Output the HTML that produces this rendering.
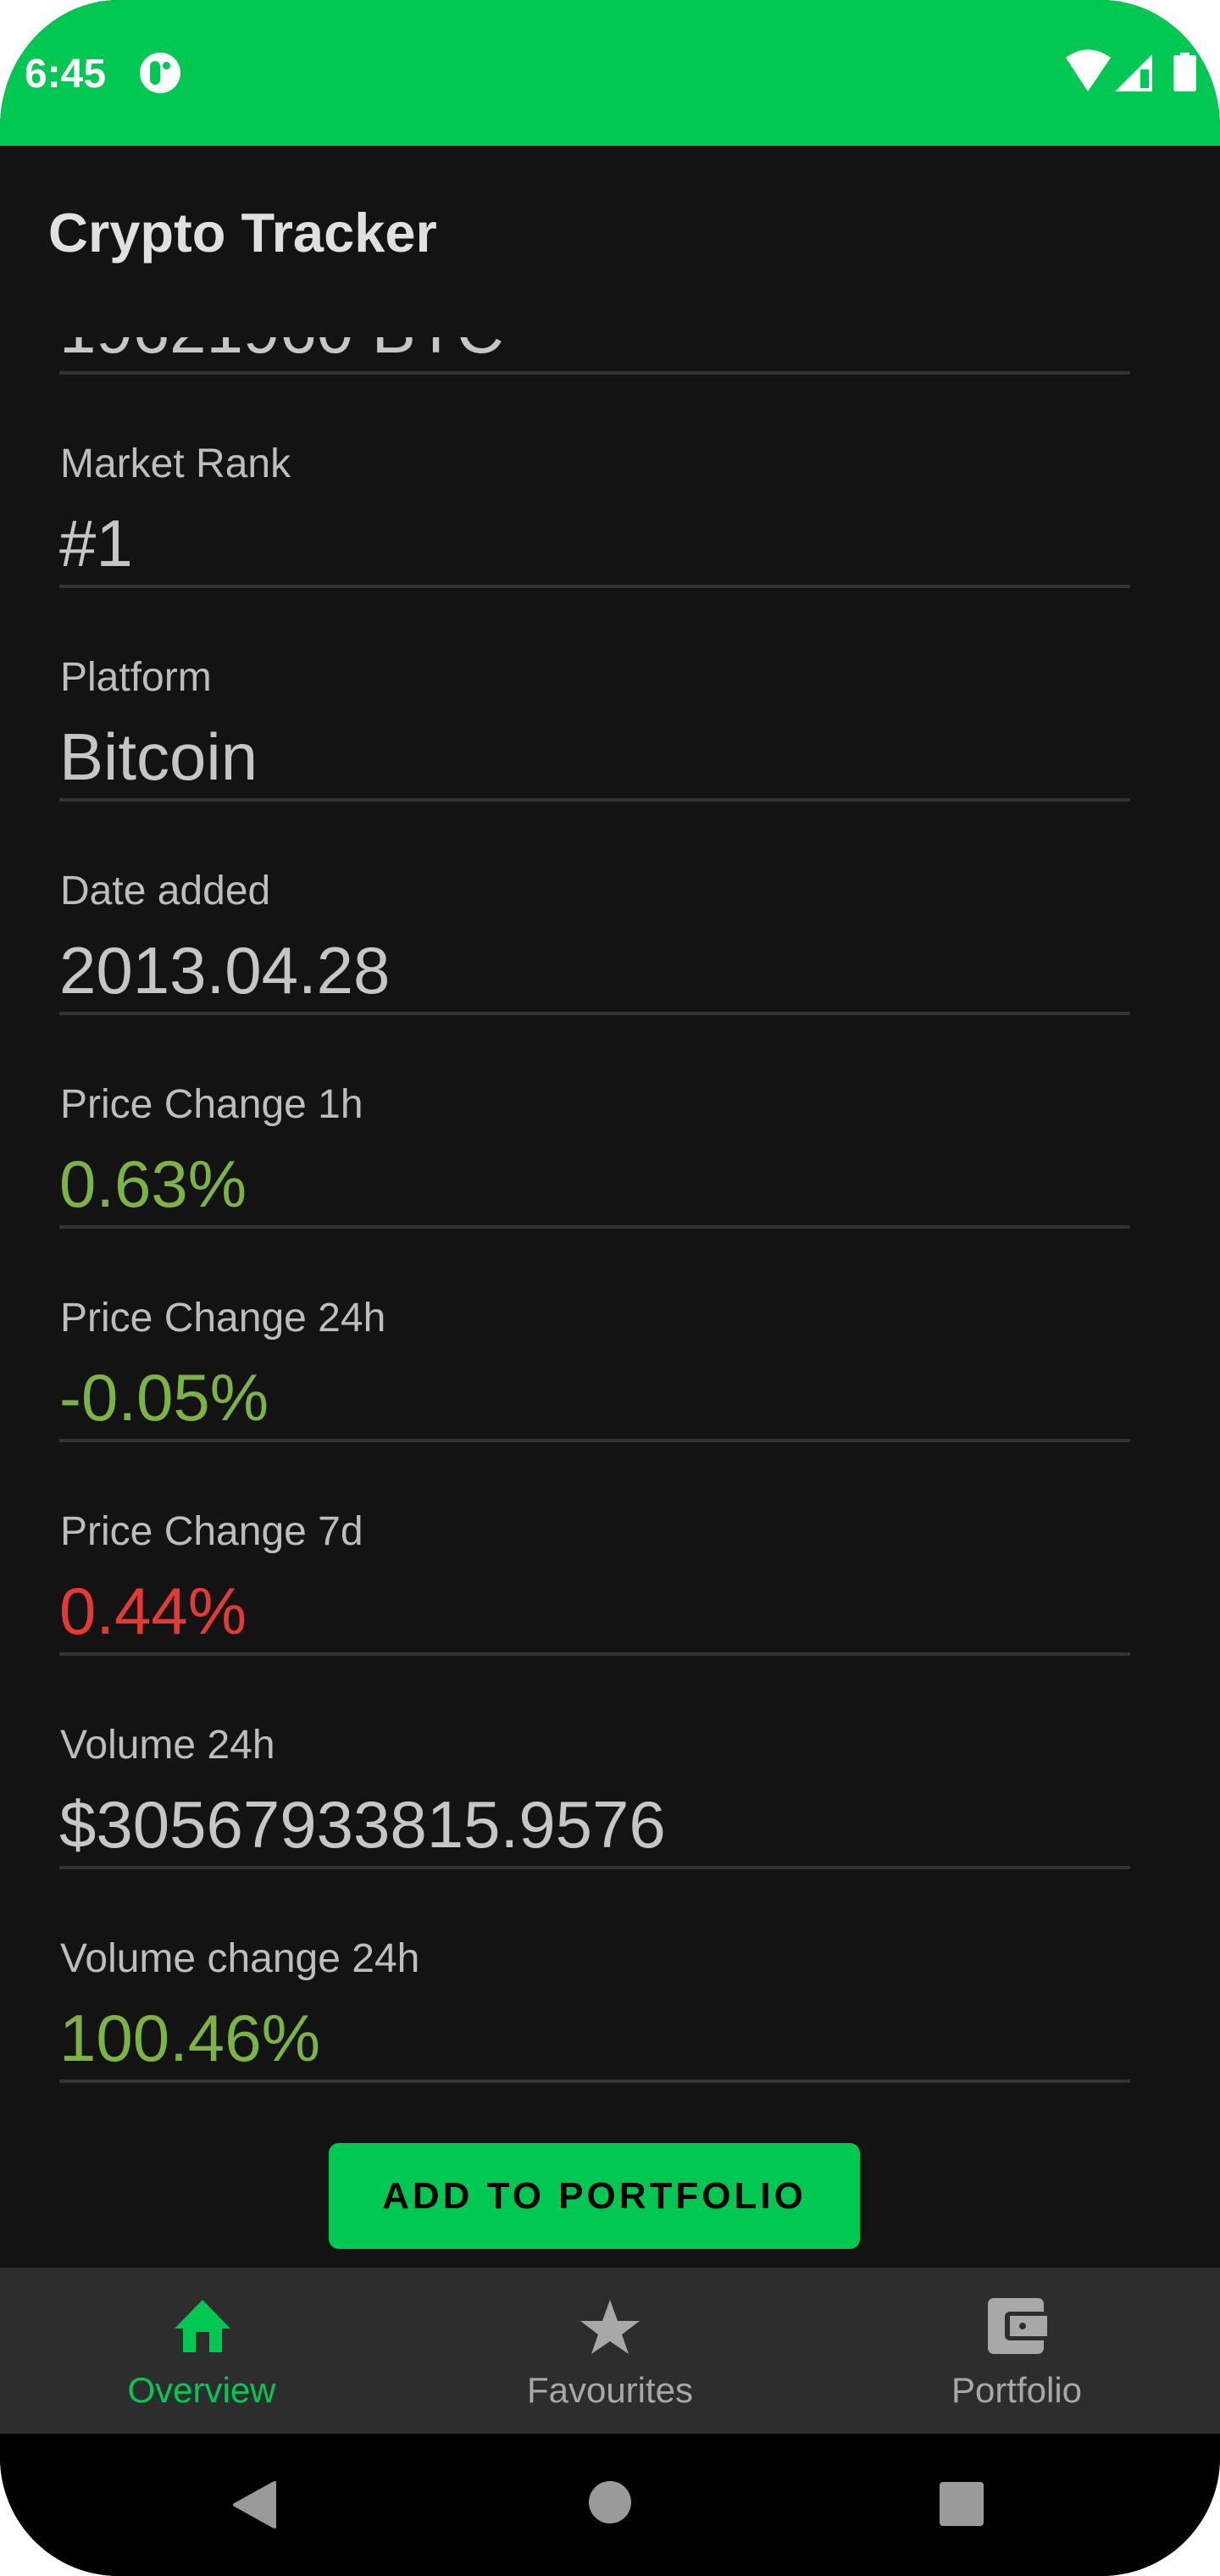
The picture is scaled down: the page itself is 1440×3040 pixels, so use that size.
<!DOCTYPE html>
<html><head><meta charset="utf-8">
<style>
html,body{margin:0;padding:0;background:#fff;}
body{width:1440px;height:3040px;position:relative;overflow:hidden;font-family:"Liberation Sans",sans-serif;}
#phone{position:absolute;left:0;top:0;width:1440px;height:3040px;background:#131313;border-radius:140px 140px 140px 140px/150px 150px 140px 140px;overflow:hidden;}
.abs{position:absolute;}
.label{position:absolute;left:71px;font-size:48px;line-height:1;color:#bdbdbd;white-space:nowrap;}
.value{position:absolute;left:70px;font-size:78px;line-height:1;color:#c6c6c6;white-space:nowrap;}
.div{position:absolute;left:70px;width:1264px;height:4px;background:#333;}
.green{color:#7cb342;}
.red{color:#e53935;}
.navlbl{position:absolute;top:2800px;font-size:42px;line-height:1;color:#a8a8a8;width:300px;text-align:center;}
</style></head>
<body>
<div id="phone">
  <div class="abs" style="left:0;top:0;width:1440px;height:172px;background:#00c853;">
    <div class="abs" style="left:29px;top:64px;font-size:48px;font-weight:bold;line-height:1;color:#fff;">6:45</div>
    <div class="abs" style="left:165px;top:62px;width:48px;height:48px;border-radius:50%;background:#fff;">
      <div class="abs" style="left:12px;top:10px;width:12px;height:28px;border-radius:6px;background:#00c853;"></div>
      <div class="abs" style="left:27px;top:11px;width:9px;height:9px;border-radius:50%;background:#00c853;"></div>
    </div>
    <svg class="abs" style="left:1250px;top:55px" width="180" height="60" viewBox="0 0 180 60">
      <path d="M8 13 Q34 -6 61 13 L34 53 Z" fill="#fff"/>
      <path d="M66 53 L110 9 L110 53 Z" fill="#fff"/>
      <rect x="96" y="27" width="10" height="22" fill="#00c853"/>
      <rect x="135" y="10" width="27" height="43" rx="3" fill="#fff"/>
      <rect x="143" y="7" width="11" height="5" fill="#fff"/>
    </svg>
  </div>
  <div class="abs" style="left:57px;top:242px;font-size:65px;font-weight:bold;line-height:1;color:#e0e0e0;">Crypto Tracker</div>

  <div class="abs" style="left:0;top:398px;width:1440px;height:2278px;overflow:hidden;">
    <div style="position:absolute;left:0;top:-398px;width:1440px;height:3040px;">
      <div class="value" style="top:350px;">19621960 BTC</div>
      <div class="div" style="top:438px;"></div>

      <div class="label" style="top:524px;">Market Rank</div>
      <div class="value" style="top:602px;">#1</div>
      <div class="div" style="top:690px;"></div>

      <div class="label" style="top:776px;">Platform</div>
      <div class="value" style="top:854px;">Bitcoin</div>
      <div class="div" style="top:942px;"></div>

      <div class="label" style="top:1028px;">Date added</div>
      <div class="value" style="top:1106px;">2013.04.28</div>
      <div class="div" style="top:1194px;"></div>

      <div class="label" style="top:1280px;">Price Change 1h</div>
      <div class="value green" style="top:1358px;">0.63%</div>
      <div class="div" style="top:1446px;"></div>

      <div class="label" style="top:1532px;">Price Change 24h</div>
      <div class="value green" style="top:1610px;">-0.05%</div>
      <div class="div" style="top:1698px;"></div>

      <div class="label" style="top:1784px;">Price Change 7d</div>
      <div class="value red" style="top:1862px;">0.44%</div>
      <div class="div" style="top:1950px;"></div>

      <div class="label" style="top:2036px;">Volume 24h</div>
      <div class="value" style="top:2114px;">$30567933815.9576</div>
      <div class="div" style="top:2202px;"></div>

      <div class="label" style="top:2288px;">Volume change 24h</div>
      <div class="value green" style="top:2366px;">100.46%</div>
      <div class="div" style="top:2454px;"></div>

      <div class="abs" style="left:388px;top:2529px;width:627px;height:125px;background:#00c853;border-radius:12px;color:#000;font-size:44px;font-weight:bold;letter-spacing:4px;line-height:125px;text-align:center;">ADD TO PORTFOLIO</div>
    </div>
  </div>

  <div class="abs" style="left:0;top:2676px;width:1440px;height:196px;background:#2d2d2d;">
  </div>
  <svg class="abs" style="left:204px;top:2712px" width="70" height="66" viewBox="0 0 70 66">
    <path d="M35 2 L2 36 H12 V64 H27 V40 H43 V64 H58 V36 H68 Z" fill="#00c853"/>
  </svg>
  <div class="navlbl" style="left:88px;color:#00c853;">Overview</div>
  <svg class="abs" style="left:684px;top:2712px" width="72" height="68" viewBox="0 0 72 68">
    <path d="M36 2 L45 27 L71 27 L50 43 L58 66 L36 51 L14 66 L22 43 L1 27 L27 27 Z" fill="#a8a8a8"/>
  </svg>
  <div class="navlbl" style="left:570px;">Favourites</div>
  <svg class="abs" style="left:1166px;top:2712px" width="70" height="68" viewBox="0 0 70 68">
    <rect x="0" y="0" width="66" height="66" rx="7" fill="#a8a8a8"/>
    <rect x="20" y="16" width="50" height="34" rx="6" fill="#2d2d2d"/>
    <rect x="26" y="21" width="44" height="24" fill="#a8a8a8"/>
    <circle cx="41" cy="33" r="4" fill="#2d2d2d"/>
  </svg>
  <div class="navlbl" style="left:1050px;">Portfolio</div>

  <div class="abs" style="left:0;top:2872px;width:1440px;height:168px;background:#000;">
    <svg class="abs" style="left:274px;top:56px" width="54" height="56" viewBox="0 0 54 56">
      <path d="M50 2 L50 54 L3 28 Z" fill="#9a9a9a" stroke="#9a9a9a" stroke-width="4" stroke-linejoin="round"/>
    </svg>
    <div class="abs" style="left:695px;top:56px;width:50px;height:50px;border-radius:50%;background:#9a9a9a;"></div>
    <div class="abs" style="left:1109px;top:57px;width:52px;height:52px;border-radius:4px;background:#9a9a9a;"></div>
  </div>
</div>
</body></html>
